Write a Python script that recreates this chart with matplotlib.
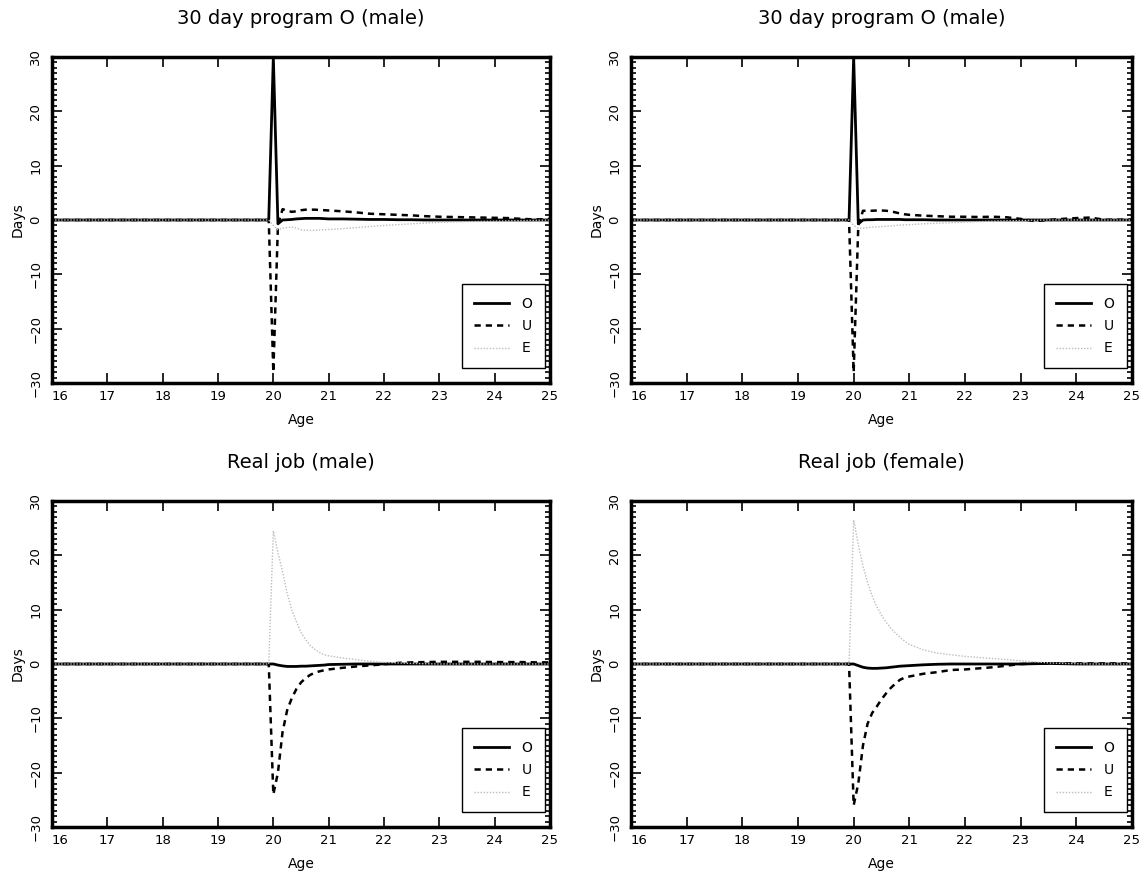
import matplotlib
matplotlib.use('Agg')
import matplotlib.pyplot as plt
from matplotlib.ticker import MultipleLocator

# age grid (years), monthly near the jump, coarser afterwards
ages = [16.0, 19.917, 20.0, 20.083, 20.167, 20.25, 20.333, 20.417, 20.5, 20.583,
        20.667, 20.75, 20.833, 20.917, 21.0, 21.25, 21.5, 21.75, 22.0, 22.25,
        22.5, 22.75, 23.0, 23.25, 23.5, 23.75, 24.0, 24.25, 24.5, 24.75, 25.0]

# 30 day program O (male) - left
prog1_O = [0, 0, 30, -0.7, 0, 0.05, 0.1, 0.2, 0.25, 0.3, 0.3, 0.3, 0.3, 0.25, 0.2,
           0.2, 0.15, 0.1, 0.1, 0.05, 0.05, 0, 0, 0, 0, 0, 0, 0, 0, 0, 0]
prog1_U = [0, 0, -28, -1.0, 2.0, 1.7, 1.5, 1.6, 1.8, 1.9, 1.9, 1.9, 1.85, 1.8, 1.75,
           1.6, 1.4, 1.15, 1.05, 0.95, 0.85, 0.7, 0.6, 0.55, 0.5, 0.45, 0.4, 0.35, 0.2, 0.1, 0.2]
prog1_E = [0, 0, -1.0, -1.8, -1.5, -1.4, -1.3, -1.5, -1.8, -1.9, -1.9, -1.9, -1.85, -1.8, -1.75,
           -1.6, -1.4, -1.2, -1.0, -0.85, -0.7, -0.55, -0.45, -0.35, -0.3, -0.25, -0.2, -0.15, -0.1, -0.05, 0]

# 30 day program O (male) - right
prog2_O = [0, 0, 30, -0.7, 0, 0.05, 0.05, 0.1, 0.1, 0.1, 0.1, 0.1, 0.1, 0.05, 0.05,
           0.05, 0, 0, 0, 0, 0, 0, 0, 0, 0, 0, 0, 0, 0, 0, 0]
prog2_U = [0, 0, -28, -1.0, 1.7, 1.7, 1.7, 1.75, 1.75, 1.7, 1.6, 1.4, 1.2, 1.05, 0.95,
           0.8, 0.7, 0.6, 0.6, 0.55, 0.6, 0.5, 0.2, -0.2, 0.0, 0.2, 0.35, 0.45, 0.05, 0.05, 0.1]
prog2_E = [0, 0, -1.0, -1.5, -1.5, -1.4, -1.3, -1.25, -1.2, -1.15, -1.1, -1.0, -0.95, -0.9, -0.85,
           -0.7, -0.6, -0.5, -0.4, -0.3, -0.2, -0.15, -0.1, -0.05, 0, 0, 0, 0, 0, 0, 0]

# Real job (male)
real_m_O = [0, 0, 0, -0.2, -0.35, -0.45, -0.45, -0.45, -0.4, -0.4, -0.35, -0.3, -0.25, -0.2, -0.1,
            -0.05, 0, 0, 0, 0, 0, 0, 0, 0, 0, 0, 0, 0, 0, 0, 0]
real_m_U = [0, 0, -24, -20, -12.5, -8.5, -6.3, -4.6, -3.4, -2.6, -2.0, -1.6, -1.35, -1.15, -1.0,
            -0.7, -0.45, -0.25, -0.05, 0.2, 0.3, 0.35, 0.4, 0.4, 0.4, 0.4, 0.35, 0.35, 0.35, 0.3, 0.3]
real_m_E = [0, 0, 24.5, 20.5, 17, 13, 10, 7.8, 5.8, 4.5, 3.4, 2.7, 2.1, 1.7, 1.5,
            1.1, 0.8, 0.5, 0.3, 0.2, 0.1, 0.05, 0, 0, 0, 0, 0, 0, 0, 0, 0]

# Real job (female)
real_f_O = [0, 0, 0, -0.3, -0.6, -0.75, -0.8, -0.8, -0.75, -0.7, -0.6, -0.5, -0.4, -0.35, -0.3,
            -0.15, -0.05, 0, 0, 0, 0, 0, 0, 0.05, 0.1, 0.05, 0, 0, 0, 0, 0]
real_f_U = [0, 0, -26, -22, -15, -11, -9, -7.8, -6.5, -5.4, -4.4, -3.6, -2.9, -2.5, -2.3,
            -1.8, -1.5, -1.1, -1.0, -0.8, -0.6, -0.3, 0, 0.05, 0.1, 0.1, 0.1, 0.1, 0.1, 0.1, 0.1]
real_f_E = [0, 0, 26.5, 22, 18, 15, 12.5, 10.5, 9.0, 7.7, 6.6, 5.7, 4.9, 4.2, 3.6,
            2.6, 2.0, 1.7, 1.4, 1.2, 1.0, 0.8, 0.6, 0.4, 0.2, 0.1, 0.05, 0, 0, 0, 0]

titles = ['30 day program O (male)', '30 day program O (male)',
          'Real job (male)', 'Real job (female)']
panels = [(prog1_O, prog1_U, prog1_E), (prog2_O, prog2_U, prog2_E),
          (real_m_O, real_m_U, real_m_E), (real_f_O, real_f_U, real_f_E)]
xticks = list(range(16, 26))
yticks = [-30, -20, -10, 0, 10, 20, 30]

W, H = 1144, 877
fig = plt.figure(figsize=(W / 100, H / 100), dpi=100)

# axes boxes in pixels: left, top, right, bottom
boxes = [(52, 57, 550, 383), (631, 57, 1132, 383),
         (52, 501, 550, 827), (631, 501, 1132, 827)]

for (l, t, r, b), title, (o, u, e) in zip(boxes, titles, panels):
    ax = fig.add_axes([l / W, 1 - b / H, (r - l) / W, (b - t) / H])
    ax.plot(ages, o, color='black', lw=2.0, label='O')
    ax.plot(ages, u, color='black', lw=1.8, dashes=(2.5, 2.0), label='U')
    ax.plot(ages, e, color='#bdbdbd', lw=1.0, dashes=(1, 1.2), label='E')

    ax.set_xlim(16, 25)
    ax.set_ylim(-30, 30)
    ax.set_xticks(xticks)
    ax.set_yticks(yticks)
    ax.yaxis.set_minor_locator(MultipleLocator(1))
    ax.tick_params(which='both', direction='in', top=True, right=True, width=1.2)
    ax.tick_params(which='major', length=7, labelsize=9.5)
    ax.tick_params(which='minor', length=3.5)
    ax.tick_params(axis='x', pad=5)
    ax.tick_params(axis='y', pad=7)
    for lab in ax.get_yticklabels():
        lab.set_rotation(90)
        lab.set_va('center')
    ax.get_xticklabels()[0].set_ha('left')
    for s in ax.spines.values():
        s.set_linewidth(2.5)

    ax.set_title(title, fontsize=14, pad=24)
    ax.set_xlabel('Age', fontsize=10)
    ax.xaxis.set_label_coords(0.5, -30 / (b - t))
    ax.set_ylabel('Days', fontsize=10)
    ax.yaxis.set_label_coords(-27 / (r - l), 0.5)

    leg = ax.legend(loc='lower right', bbox_to_anchor=(1 - 5 / (r - l), 15 / (b - t)),
                    fancybox=False, edgecolor='black', framealpha=1, fontsize=10,
                    handlelength=2.5, handletextpad=0.9, labelspacing=0.6,
                    borderpad=0.9, borderaxespad=0)
    leg.get_frame().set_linewidth(1.0)

plt.savefig('out.png', dpi=100)
